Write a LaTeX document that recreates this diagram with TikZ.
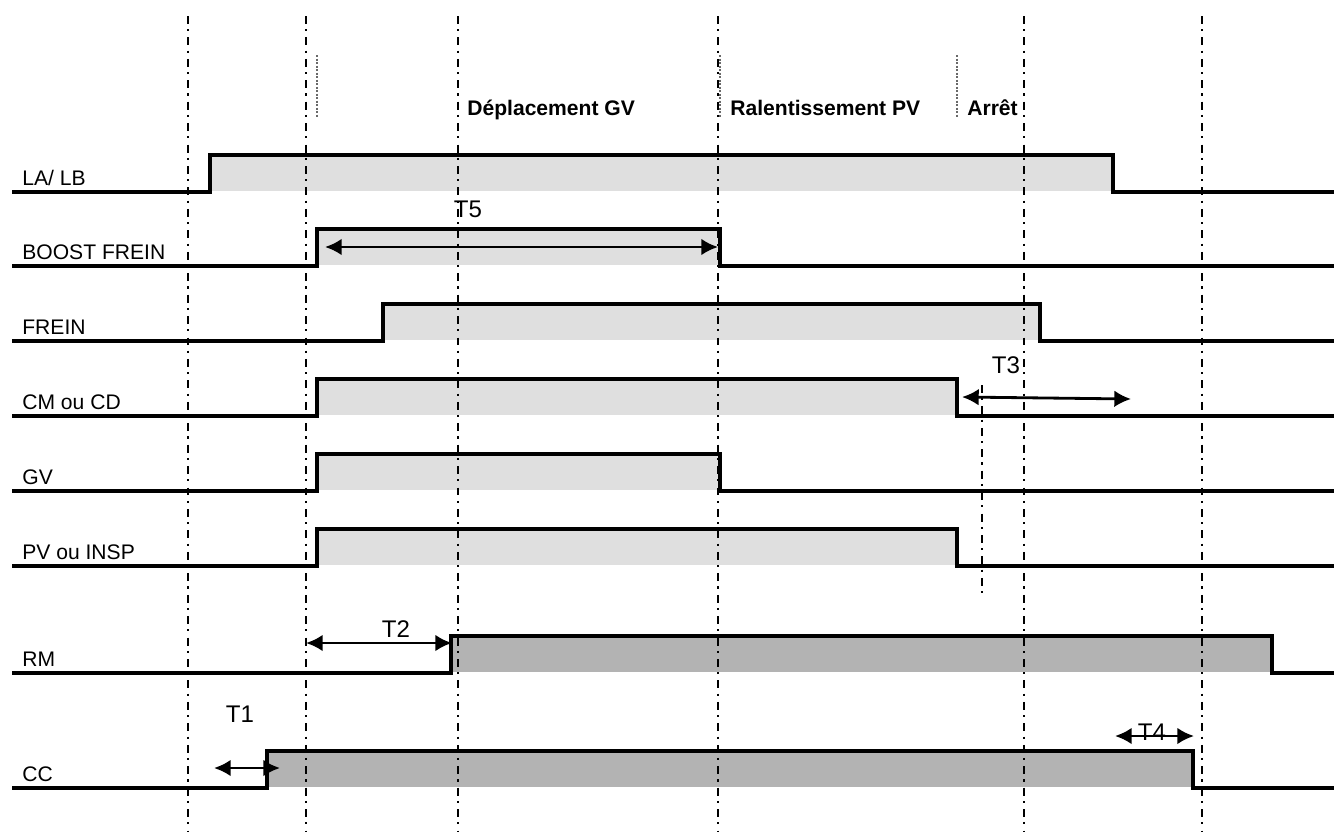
\documentclass[tikz,border=0pt]{standalone}
\usepackage{fontspec}
\setmainfont{Liberation Sans}
\usetikzlibrary{arrows.meta}
\usepackage{xcolor}
\definecolor{fillpale}{RGB}{223,223,223}
\definecolor{filldark}{RGB}{179,179,179}
\definecolor{guidegray}{RGB}{105,105,105}

\begin{document}
\begin{tikzpicture}[x=0.02cm,y=-0.02cm,font=\fontsize{12}{14}\selectfont,
  signal/.style={line width=2.3pt,line join=miter},
  phase/.style={line width=1.1pt,dash pattern=on 4.5pt off 3pt on 1.2pt off 3.5pt},
  guide/.style={draw=guidegray,line width=0.6pt,dash pattern=on 1.2pt off 0.8pt},
  timer/.style={{Latex[length=9.5pt,width=9.5pt]}-{Latex[length=9.5pt,width=9.5pt]},line width=1.6pt},
  signame/.style={anchor=base west,inner xsep=0pt},
  phasename/.style={anchor=base west,inner xsep=0pt,font=\fontsize{12}{14}\selectfont\bfseries},
  tname/.style={font=\fontsize{13.7}{16}\selectfont}]
\useasboundingbox (0,0) rectangle (1334,832);
% shaded high levels
\fill[fillpale] (210,155) rectangle (1113,191);
\fill[fillpale] (317,229) rectangle (720,265);
\fill[fillpale] (383,304) rectangle (1040,340);
\fill[fillpale] (317,379) rectangle (957,415);
\fill[fillpale] (317,454) rectangle (720,490);
\fill[fillpale] (317,529) rectangle (957,565);
\fill[filldark] (451,636) rectangle (1272,672);
\fill[filldark] (267,751) rectangle (1193,787);
% phase boundaries
\draw[phase] (188,16) -- (188,832);
\draw[phase] (306,16) -- (306,832);
\draw[phase] (458,16) -- (458,832);
\draw[phase] (718,16) -- (718,832);
\draw[phase] (1024,16) -- (1024,832);
\draw[phase] (1202,16) -- (1202,832);
\draw[phase] (982,385) -- (982,598);
\draw[guide] (317,55) -- (317,118);
\draw[guide] (720,55) -- (720,118);
\draw[guide] (957,55) -- (957,118);
% phases
\node[phasename] (depl) at (467,115) {Déplacement GV};
\node[phasename] (ralent) at (730,115) {Ralentissement PV};
\node[phasename] (arret) at (967,115) {Arrêt};
% signals
\draw[signal] (12,192) -- (210,192) -- (210,155) -- (1113,155) -- (1113,192) -- (1334,192);
\node[signame] (lalb) at (22,185) {LA/ LB};
\draw[signal] (12,266) -- (317,266) -- (317,229) -- (720,229) -- (720,266) -- (1334,266);
\node[signame] (boost) at (22,259) {BOOST FREIN};
\draw[signal] (12,341) -- (383,341) -- (383,304) -- (1040,304) -- (1040,341) -- (1334,341);
\node[signame] (frein) at (22,334.5) {FREIN};
\draw[signal] (12,416) -- (317,416) -- (317,379) -- (957,379) -- (957,416) -- (1334,416);
\node[signame] (cmcd) at (22,409.5) {CM ou CD};
\draw[signal] (12,491) -- (317,491) -- (317,454) -- (720,454) -- (720,491) -- (1334,491);
\node[signame] (gv) at (22,484.5) {GV};
\draw[signal] (12,566) -- (317,566) -- (317,529) -- (957,529) -- (957,566) -- (1334,566);
\node[signame] (pvinsp) at (22,559.5) {PV ou INSP};
\draw[signal] (12,673) -- (451,673) -- (451,636) -- (1272,636) -- (1272,673) -- (1334,673);
\node[signame] (rm) at (22,666.5) {RM};
\draw[signal] (12,788) -- (267,788) -- (267,751) -- (1193,751) -- (1193,788) -- (1334,788);
\node[signame] (cc) at (22,781.5) {CC};
% timers
\coordinate (t5a) at (325,247);
\coordinate (t5b) at (718,247);
\draw[timer] (t5a) -- (t5b);
\node[tname] (t5) at (468,209) {T5};
\coordinate (t3a) at (962,397);
\coordinate (t3b) at (1131,399);
\draw[timer] (t3a) -- (t3b);
\node[tname] (t3) at (1006,365) {T3};
\coordinate (t2a) at (306,643);
\coordinate (t2b) at (452,643);
\draw[timer] (t2a) -- (t2b);
\node[tname] (t2) at (396,629) {T2};
\coordinate (t1a) at (214,768);
\coordinate (t1b) at (280,768);
\draw[timer] (t1a) -- (t1b);
\node[tname] (t1) at (240,714) {T1};
\coordinate (t4a) at (1115,736);
\coordinate (t4b) at (1194,736);
\draw[timer] (t4a) -- (t4b);
\node[tname] (t4) at (1152,732) {T4};
\end{tikzpicture}
\end{document}
